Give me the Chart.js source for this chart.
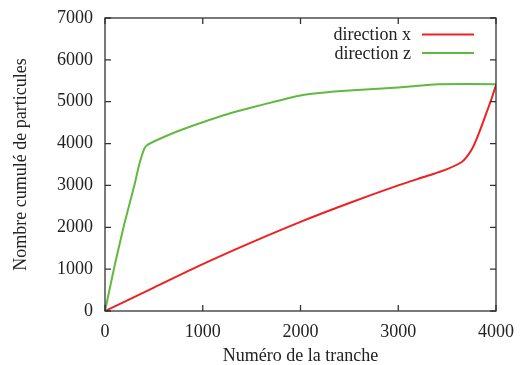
<!DOCTYPE html>
<html>
<head>
<meta charset="utf-8">
<script src="https://cdn.jsdelivr.net/npm/chart.js@4.4.0/dist/chart.umd.min.js"></script>
<style>
  html, body { margin: 0; padding: 0; background: #fff; }
  #wrap { width: 520px; height: 365px; }
</style>
</head>
<body>
<div id="wrap"><canvas id="chart" width="520" height="365"></canvas></div>
<script>
// values
const xTicks = [0, 1000, 2000, 3000, 4000];
const yTicks = [0, 1000, 2000, 3000, 4000, 5000, 6000, 7000];

const dirX_x = [0, 500, 1000, 1500, 2000, 2500, 3000, 3300, 3500, 3650, 3700, 3750, 3800, 3850, 3900, 3950, 4000];
const dirX_y = [0, 560, 1120, 1640, 2130, 2580, 3000, 3230, 3390, 3560, 3680, 3850, 4100, 4400, 4720, 5040, 5400];

const dirZ_x = [0, 100, 200, 300, 350, 400, 430, 500, 750, 1000, 1250, 1500, 1750, 2000, 2250, 2500, 3000, 3300, 3400, 4000];
const dirZ_y = [0, 1100, 2100, 3000, 3500, 3870, 3960, 4050, 4300, 4510, 4700, 4860, 5010, 5150, 5220, 5265, 5340, 5400, 5420, 5420];

const labels = ['direction x', 'direction z'];
const colors = ['#ee2020', '#62b840'];

const toPts = (xs, ys) => xs.map((x, i) => ({ x: x, y: ys[i] }));

const FONT = '"Liberation Serif", "DejaVu Serif", serif';
const FS = 18;

// gnuplot-like frame with inward ticks and the legend
const framePlugin = {
    id: 'frame',
    afterDraw(chart) {
        const ctx = chart.ctx;
        const a = chart.chartArea;
        const xs = chart.scales.x, ys = chart.scales.y;
        ctx.save();
        ctx.strokeStyle = '#333';
        ctx.lineWidth = 1.3;
        ctx.strokeRect(a.left, a.top, a.right - a.left, a.bottom - a.top);
        const t = 6;
        ctx.beginPath();
        xTicks.forEach((v) => {
            const p = xs.getPixelForValue(v);
            ctx.moveTo(p, a.bottom); ctx.lineTo(p, a.bottom - t);
            ctx.moveTo(p, a.top); ctx.lineTo(p, a.top + t);
        });
        yTicks.forEach((v) => {
            const p = ys.getPixelForValue(v);
            ctx.moveTo(a.left, p); ctx.lineTo(a.left + t, p);
            ctx.moveTo(a.right, p); ctx.lineTo(a.right - t, p);
        });
        ctx.stroke();

        // legend
        ctx.font = FS + 'px ' + FONT;
        ctx.textAlign = 'right';
        ctx.textBaseline = 'middle';
        labels.forEach((lab, i) => {
            const y = 34.5 + i * 18.5;
            ctx.fillStyle = '#222';
            ctx.fillText(lab, 411, y + 1);
            ctx.strokeStyle = colors[i];
            ctx.lineWidth = 2;
            ctx.beginPath();
            ctx.moveTo(422, y); ctx.lineTo(474, y);
            ctx.stroke();
        });
        ctx.restore();
    }
};

new Chart(document.getElementById('chart'), {
    type: 'line',
    data: {
        datasets: [
            { label: labels[0], data: toPts(dirX_x, dirX_y), borderColor: colors[0], borderWidth: 2, pointRadius: 0, tension: 0.3, fill: false },
            { label: labels[1], data: toPts(dirZ_x, dirZ_y), borderColor: colors[1], borderWidth: 2, pointRadius: 0, tension: 0.2, fill: false }
        ]
    },
    options: {
        responsive: false,
        animation: false,
        layout: { padding: { top: 18, right: 24, left: 0, bottom: 0 } },
        plugins: { legend: { display: false }, tooltip: { enabled: false } },
        scales: {
            x: {
                type: 'linear', min: 0, max: 4000,
                afterBuildTicks: (s) => { s.ticks = xTicks.map((v) => ({ value: v })); },
                afterFit: (s) => { s.height = 54; s.paddingLeft = 0; s.paddingRight = 0; },
                grid: { display: false, drawTicks: false },
                border: { display: false },
                ticks: { color: '#222', font: { family: FONT, size: FS }, padding: 10, callback: (v) => String(v) },
                title: { display: true, text: 'Numéro de la tranche', color: '#222', font: { family: FONT, size: FS }, padding: { top: 6, bottom: -2 } }
            },
            y: {
                type: 'linear', min: 0, max: 7000,
                afterBuildTicks: (s) => { s.ticks = yTicks.map((v) => ({ value: v })); },
                afterFit: (s) => { s.width = 105; s.paddingTop = 0; s.paddingBottom = 0; },
                grid: { display: false, drawTicks: false },
                border: { display: false },
                ticks: { color: '#222', font: { family: FONT, size: FS }, padding: 12, callback: (v) => String(v) },
                title: { display: true, text: 'Nombre cumulé de particules', color: '#222', font: { family: FONT, size: FS }, padding: { top: 10, bottom: 0 } }
            }
        }
    },
    plugins: [framePlugin]
});
</script>
</body>
</html>
